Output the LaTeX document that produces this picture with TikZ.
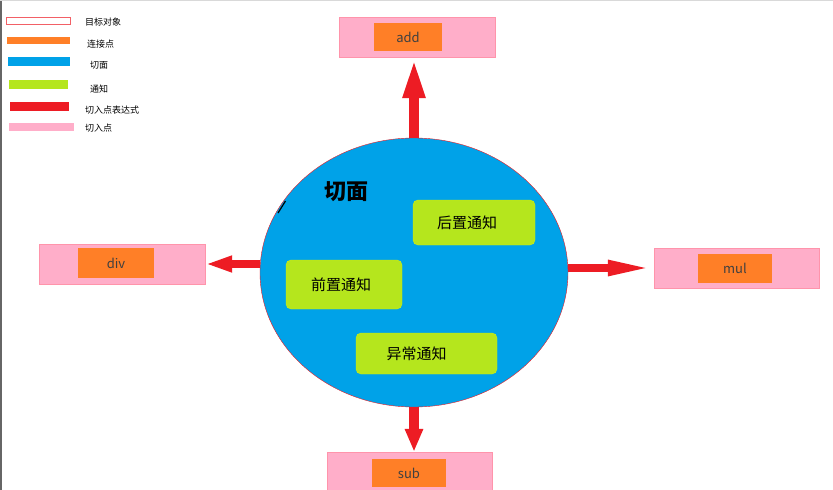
\documentclass[tikz,border=0pt]{standalone}
\usepackage{fontspec}
\setmainfont{Noto Sans CJK SC}
\usetikzlibrary{positioning}
\usetikzlibrary{arrows.meta}
\usetikzlibrary{shapes.geometric}
\definecolor{aspectcolor}{RGB}{0,162,232}
\definecolor{advicecolor}{RGB}{181,230,29}
\definecolor{jpcolor}{RGB}{255,127,39}
\definecolor{cutcolor}{RGB}{255,174,201}
\definecolor{exprcolor}{RGB}{237,28,36}

\begin{document}
\begin{tikzpicture}[
    x=1pt, y=-1pt,
    cut/.style={rectangle, fill=cutcolor, draw=cutcolor!85!red, minimum width=165pt, minimum height=40pt, inner sep=0pt},
    jp/.style={rectangle, fill=jpcolor, minimum width=74pt, minimum height=29pt, inner sep=0pt, text=black!75, font=\fontsize{13}{15}\selectfont},
    advice/.style={rectangle, rounded corners=5pt, fill=advicecolor, draw=advicecolor!60!yellow, inner sep=0pt},
    advtext/.style={font=\fontsize{15}{18}\selectfont, text=black},
    arrow/.style={draw=exprcolor, line width=#1},
    bar/.style={rectangle, inner sep=0pt, minimum height=8pt, fill=#1},
    ltext/.style={anchor=west, inner sep=0pt, font=\fontsize{9}{11}\selectfont}
]
\useasboundingbox[fill=white] (0,0) rectangle (833,490);
\draw[black!60, line width=1.5pt] (0.75,0) -- (0.75,490);
\draw[black!15] (0,0.5) -- (833,0.5);

% Legend
\node[bar=white, draw=exprcolor!70, minimum width=64pt, minimum height=7pt] (lgtarget) at (38,20.5) {};
\node[bar=jpcolor, minimum width=63pt, minimum height=7pt] (lgjp) at (38.5,40.5) {};
\node[bar=aspectcolor, minimum width=62pt, minimum height=9pt] (lgaspect) at (39,61.5) {};
\node[bar=advicecolor, minimum width=59pt, minimum height=9pt] (lgadvice) at (38.5,84.5) {};
\node[bar=exprcolor, minimum width=59pt, minimum height=9pt] (lgexpr) at (39.5,106.5) {};
\node[bar=cutcolor, minimum width=65pt] (lgcut) at (41.5,127) {};
\node[ltext] at (85,22) {目标对象};
\node[ltext] at (87,44) {连接点};
\node[ltext] at (90,65.5) {切面};
\node[ltext] at (90,89) {通知};
\node[ltext] at (85,110.5) {切入点表达式};
\node[ltext] at (85,128) {切入点};

% Aspect
\node[ellipse, fill=aspectcolor, draw=exprcolor, minimum width=308pt, minimum height=269pt, inner sep=0pt] (aspect) at (414,272.5) {};
\draw[black, line width=1.2pt] (285.5,201) .. controls (281.5,206.5) .. (278,213);
\node[font=\fontsize{22}{26}\selectfont\bfseries] (title) at (346.5,192) {切面};
\node[advice, minimum width=122pt, minimum height=45pt, label={[advtext, xshift=-7pt]center:后置通知}] (after) at (474,222.5) {};
\node[advice, minimum width=116pt, minimum height=49pt, label={[advtext, xshift=-3pt]center:前置通知}] (before) at (344,284.5) {};
\node[advice, minimum width=141pt, minimum height=41pt, label={[advtext, xshift=-10pt]center:异常通知}] (throwing) at (426.5,353.5) {};

% Pointcuts
\node[cut, minimum width=156pt] (addcut) at (417,37) {};
\node[jp, minimum width=68pt, minimum height=28pt] (addjp) at (408,37) {add};
\node[cut, minimum width=166pt] (divcut) at (122,264) {};
\node[jp, minimum width=76pt, minimum height=30pt] (divjp) at (116,263) {div};
\node[cut] (mulcut) at (736.5,268) {};
\node[jp] (muljp) at (735,268.5) {mul};
\node[cut, minimum height=38pt] (subcut) at (409.5,471) {};
\node[jp, minimum height=28pt] (subjp) at (409,473) {sub};

% Arrows
\draw[arrow=10pt, -{Triangle[length=41pt, width=20pt]}] (aspect.north) -- (aspect.north |- addcut.south);
\draw[arrow=8pt, -{Triangle[length=27pt, width=15pt]}] (aspect.west |- divcut.east) -- (divcut.east);
\draw[arrow=8pt, -{Triangle[length=46pt, width=14pt]}] (aspect.east |- mulcut.west) -- (mulcut.west);
\draw[arrow=10pt, -{Triangle[length=23pt, width=17pt]}] (aspect.south) -- (aspect.south |- subcut.north);
\end{tikzpicture}
\end{document}
